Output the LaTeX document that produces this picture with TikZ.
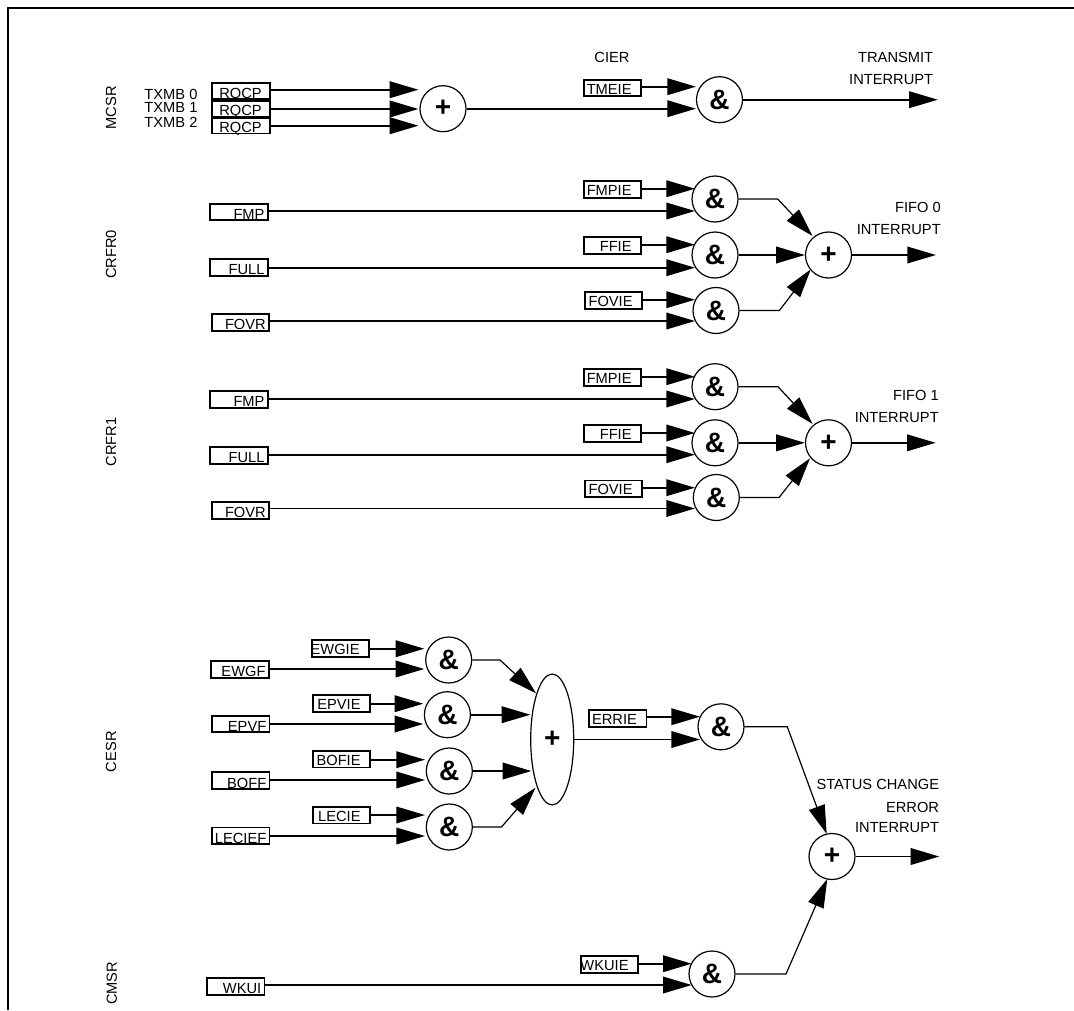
\documentclass[tikz,border=0pt]{standalone}
\usepackage{fontspec}
\setmainfont{Liberation Sans}
\usetikzlibrary{arrows.meta,shapes.geometric}

\begin{document}
\begin{tikzpicture}[x=0.75pt,y=-0.75pt,>={Triangle[length=21.5pt,width=12.4pt]},
    wire/.style={->,line width=1.4pt},
    thinwire/.style={->,line width=0.9pt},
    txt/.style={font=\fontsize{11}{11}\selectfont,inner sep=0pt},
    sidetxt/.style={txt,rotate=90},
    rtxt/.style={txt,anchor=east},
    boxbase/.style={draw,txt,line width=1.4pt,execute at begin node={\hbox to 43pt\bgroup\hss}},
    regbox/.style={boxbase,text height=11.9pt,text depth=0.5pt,execute at end node={\kern2.4pt\egroup}},
    rqbox/.style={boxbase,text height=11.4pt,text depth=0.5pt,execute at end node={\kern6pt\egroup}},
    enbox/.style={boxbase,text height=10.9pt,text depth=1.5pt,execute at end node={\kern7.2pt\egroup}},
    gate/.style={draw,circle,line width=0.9pt,inner sep=0pt,minimum size=34.5pt,font=\fontsize{21}{21}\selectfont\bfseries},
    biggate/.style={draw,ellipse,line width=0.9pt,inner sep=0pt,minimum width=32.25pt,minimum height=98.25pt,font=\fontsize{21}{21}\selectfont\bfseries}]
    \useasboundingbox (0,0) rectangle (1074,1010);

    % frame
    \draw[line width=1.5pt] (7.5,1010) -- (7.5,7.5) -- (1074,7.5);

    % transmit
    \node[sidetxt] (mcsr) at (111,107.7) {MCSR};
    \node[rtxt] (txa) at (197.7,94) {TXMB 0};
    \node[rtxt] (txb) at (197.7,107.7) {TXMB 1};
    \node[rtxt] (txc) at (197.7,122) {TXMB 2};
    \node[rqbox] (rqa) at (241,90.8) {RQCP};
    \node[rqbox] (rqb) at (241,108.5) {RQCP};
    \node[rqbox] (rqc) at (241,125.5) {RQCP};
    \node[gate] (ort) at (443,108.7) {+};
    \node[txt] (cier) at (612,57) {CIER};
    \node[enbox] (tmeie) at (612.5,87.9) {TMEIE};
    \node[gate] (andt) at (719.5,99.7) {\&};
    \node[rtxt] (tlaba) at (933.4,57.7) {TRANSMIT};
    \node[rtxt] (tlabb) at (933.4,80) {INTERRUPT};
    \coordinate (rqina) at (418.4,89.7);
    \coordinate (rqinb) at (418.4,109);
    \coordinate (rqinc) at (418.4,125.7);
    \coordinate (tin) at (696,86.7);
    \coordinate (orin) at (696,108.7);
    \coordinate (tout) at (937.8,99.7);
    \draw[wire] (rqina -| rqa.east) -- (rqina);
    \draw[wire] (rqinb -| rqb.east) -- (rqinb);
    \draw[wire] (rqinc -| rqc.east) -- (rqinc);
    \draw[wire] (tin -| tmeie.east) -- (tin);
    \draw[wire] (ort.east) -- (orin);
    \draw[wire] (andt.east) -- (tout);

    % fifo 0
    \node[sidetxt] (crfra) at (111,254.5) {CRFR0};
    \node[regbox] (fmpa) at (239,212) {FMP};
    \node[regbox] (fulla) at (239,267.3) {FULL};
    \node[regbox] (fovra) at (240.3,322.3) {FOVR};
    \node[enbox] (fmpiea) at (612.5,189.6) {FMPIE};
    \node[enbox] (ffiea) at (612.5,245.6) {FFIE};
    \node[enbox] (foviea) at (613.5,300.5) {FOVIE};
    \node[gate] (andaa) at (715,199) {\&};
    \node[gate] (andab) at (715,255) {\&};
    \node[gate] (andac) at (716,310.5) {\&};
    \node[gate] (ora) at (828.5,255) {+};
    \node[rtxt] (alaba) at (941,207) {FIFO 0};
    \node[rtxt] (alabb) at (941,230) {INTERRUPT};
    \coordinate (ena) at (695,188.7);
    \coordinate (enb) at (695,244.7);
    \coordinate (enc) at (695,299.7);
    \coordinate (ina) at (695,211);
    \coordinate (inb) at (695,267.7);
    \coordinate (inc) at (695,321);
    \coordinate (kneea) at (777.7,199);
    \coordinate (tipa) at (812.5,236);
    \coordinate (kneeb) at (779.4,310.5);
    \coordinate (tipb) at (810.8,269.3);
    \coordinate (aout) at (936,255);
    \draw[wire] (ena -| fmpiea.east) -- (ena);
    \draw[wire] (enb -| ffiea.east) -- (enb);
    \draw[wire] (enc -| foviea.east) -- (enc);
    \draw[wire] (ina -| fmpa.east) -- (ina);
    \draw[wire] (inb -| fulla.east) -- (inb);
    \draw[wire] (inc -| fovra.east) -- (inc);
    \draw[thinwire] (andaa.east) -- (kneea) -- (tipa);
    \draw[wire] (andab.east) -- (ora.west);
    \draw[thinwire] (andac.east) -- (kneeb) -- (tipb);
    \draw[wire] (ora.east) -- (aout);

    % fifo 1
    \node[sidetxt] (crfrb) at (111,442) {CRFR1};
    \node[regbox] (fmpb) at (239,399.3) {FMP};
    \node[regbox] (fullb) at (239,455.3) {FULL};
    \node[regbox] (fovrb) at (240.3,510.3) {FOVR};
    \node[enbox] (fmpieb) at (612.5,377.3) {FMPIE};
    \node[enbox] (ffieb) at (612.5,433.5) {FFIE};
    \node[enbox] (fovieb) at (613.5,488.7) {FOVIE};
    \node[gate] (andba) at (715,386.7) {\&};
    \node[gate] (andbb) at (715,442.8) {\&};
    \node[gate] (andbc) at (716.3,497.5) {\&};
    \node[gate] (orb) at (828.5,442.8) {+};
    \node[rtxt] (blaba) at (939,395) {FIFO 1};
    \node[rtxt] (blabb) at (939,418) {INTERRUPT};
    \coordinate (bena) at (695,376.7);
    \coordinate (benb) at (695,433);
    \coordinate (benc) at (695,487.7);
    \coordinate (bina) at (695,399);
    \coordinate (binb) at (695,454.7);
    \coordinate (binc) at (695,508.5);
    \coordinate (bkneea) at (778,386.7);
    \coordinate (btipa) at (812.7,424);
    \coordinate (bkneeb) at (779,497.5);
    \coordinate (btipb) at (810,458.3);
    \coordinate (bout) at (935.7,442.8);
    \draw[wire] (bena -| fmpieb.east) -- (bena);
    \draw[wire] (benb -| ffieb.east) -- (benb);
    \draw[wire] (benc -| fovieb.east) -- (benc);
    \draw[wire] (bina -| fmpb.east) -- (bina);
    \draw[wire] (binb -| fullb.east) -- (binb);
    \draw[wire] (binc -| fovrb.east) -- (binc);
    \draw[thinwire] (andba.east) -- (bkneea) -- (btipa);
    \draw[wire] (andbb.east) -- (orb.west);
    \draw[thinwire] (andbc.east) -- (bkneeb) -- (btipb);
    \draw[wire] (orb.east) -- (bout);

    % error
    \node[sidetxt] (cesr) at (111,751.7) {CESR};
    \node[enbox] (ewgie) at (340.5,648.3) {EWGIE};
    \node[regbox] (ewgf) at (240,669.3) {EWGF};
    \node[enbox] (epvie) at (341.5,703.5) {EPVIE};
    \node[regbox] (epvf) at (240.8,724) {EPVF};
    \node[enbox] (bofie) at (341.5,759.2) {BOFIE};
    \node[regbox] (boff) at (240.8,780.5) {BOFF};
    \node[enbox] (lecie) at (341.5,815.2) {LECIE};
    \node[regbox] (lecief) at (240.8,835.8) {LECIEF};
    \node[gate] (andca) at (448.7,660) {\&};
    \node[gate] (andcb) at (447.4,714.7) {\&};
    \node[gate] (andcc) at (449.3,771) {\&};
    \node[gate] (andcd) at (449.3,827) {\&};
    \node[biggate] (orc) at (552.2,739.5) {+};
    \node[enbox] (errie) at (617.8,718.5) {ERRIE};
    \node[gate] (ande) at (721,726.8) {\&};
    \coordinate (cena) at (424.3,648.7);
    \coordinate (cina) at (424.3,669);
    \coordinate (cenb) at (423.3,703.7);
    \coordinate (cinb) at (423.3,724);
    \coordinate (cenc) at (425,759.7);
    \coordinate (cinc) at (425,780);
    \coordinate (cend) at (425,815);
    \coordinate (cind) at (425,836);
    \coordinate (ckneea) at (500,660);
    \coordinate (ctipa) at (536,693.3);
    \coordinate (ctipb) at (530.4,714.7);
    \coordinate (ctipc) at (531.4,771);
    \coordinate (ckneed) at (501.5,827);
    \coordinate (ctipd) at (535.5,787.7);
    \coordinate (een) at (700,716.7);
    \coordinate (ein) at (700,739.5);
    \draw[wire] (cena -| ewgie.east) -- (cena);
    \draw[wire] (cina -| ewgf.east) -- (cina);
    \draw[wire] (cenb -| epvie.east) -- (cenb);
    \draw[wire] (cinb -| epvf.east) -- (cinb);
    \draw[wire] (cenc -| bofie.east) -- (cenc);
    \draw[wire] (cinc -| boff.east) -- (cinc);
    \draw[wire] (cend -| lecie.east) -- (cend);
    \draw[wire] (cind -| lecief.east) -- (cind);
    \draw[thinwire] (andca.east) -- (ckneea) -- (ctipa);
    \draw[wire] (andcb.east) -- (ctipb);
    \draw[wire] (andcc.east) -- (ctipc);
    \draw[thinwire] (andcd.east) -- (ckneed) -- (ctipd);
    \draw[wire] (een -| errie.east) -- (een);
    \draw[wire] (orc.east) -- (ein);

    % status change
    \node[sidetxt] (cmsr) at (111.7,983.3) {CMSR};
    \node[regbox] (wkui) at (235.8,986.3) {WKUI};
    \node[enbox] (wkuie) at (609.5,964.5) {WKUIE};
    \node[gate] (andw) at (712,974) {\&};
    \node[gate] (ors) at (832,856.5) {+};
    \node[rtxt] (slaba) at (939.3,784) {STATUS CHANGE};
    \node[rtxt] (slabb) at (939.3,807) {ERROR};
    \node[rtxt] (slabc) at (939.3,827.7) {INTERRUPT};
    \coordinate (wen) at (691.7,963.7);
    \coordinate (win) at (691.7,985);
    \coordinate (skneea) at (787.3,726.8);
    \coordinate (stipa) at (826.7,834);
    \coordinate (skneeb) at (786,974);
    \coordinate (stipb) at (827.3,879);
    \coordinate (sout) at (939.3,856.5);
    \draw[wire] (wen -| wkuie.east) -- (wen);
    \draw[wire] (win -| wkui.east) -- (win);
    \draw[thinwire] (ande.east) -- (skneea) -- (stipa);
    \draw[thinwire] (andw.east) -- (skneeb) -- (stipb);
    \draw[wire] (ors.east) -- (sout);
\end{tikzpicture}
\end{document}
